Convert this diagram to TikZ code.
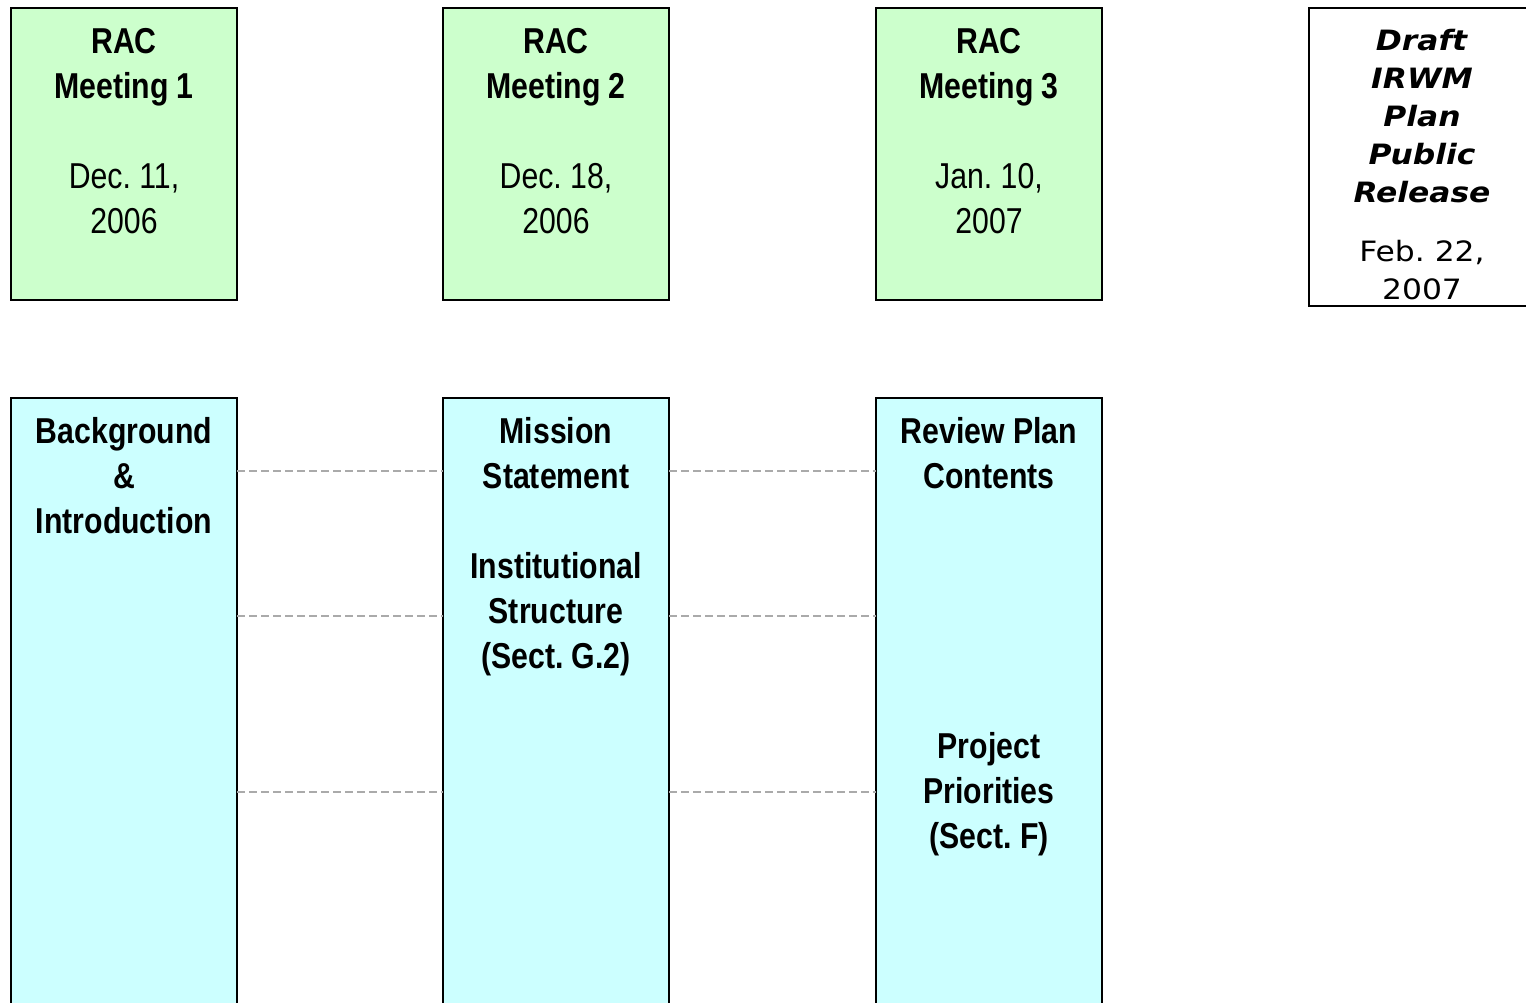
\documentclass[tikz,border=0pt]{standalone}
\usepackage{fontspec}
\newfontfamily\narrowfont[FakeStretch=0.84]{Liberation Sans}
\newfontfamily\verdfont[FakeStretch=1.12]{DejaVu Sans}
\usetikzlibrary{positioning}
\definecolor{meetgreen}{RGB}{204,255,204}
\definecolor{topiccyan}{RGB}{204,255,255}
\definecolor{gapgray}{RGB}{170,170,170}
\tikzset{
  box/.style={draw=black,line width=1pt,rectangle,inner sep=0pt,outer sep=0pt,minimum width=113pt},
  meetbox/.style={box,fill=meetgreen,minimum height=146pt},
  topicbox/.style={box,fill=topiccyan,minimum height=311pt},
  releasebox/.style={box,fill=white,minimum height=149pt},
  boxtext/.style={align=center,inner sep=0pt,font=\narrowfont\fontsize{18pt}{22.5pt}\selectfont},
  releasetext/.style={align=center,inner sep=0pt,font=\verdfont\fontsize{14pt}{19pt}\selectfont},
  gapline/.style={draw=gapgray,line width=0.75pt,dash pattern=on 4pt off 2pt}
}
\begin{document}
\begin{tikzpicture}[x=0.5pt,y=-0.5pt]
		\useasboundingbox (0,0) rectangle (1526,1002);
		
		% meetings
		\node[meetbox] (meet1) at (124,154) {};
		\node[meetbox] (meet2) at (556,154) {};
		\node[meetbox] (meet3) at (989,154) {};
		\node[releasebox] (release) at (1422,157) {};
		
		\node[boxtext, below=7pt of meet1.north] (meet1txt) {\strut\textbf{RAC}\\\textbf{Meeting 1}\\[22.5pt]Dec.~11,\\2006};
		\node[boxtext, below=7pt of meet2.north] (meet2txt) {\strut\textbf{RAC}\\\textbf{Meeting 2}\\[22.5pt]Dec.~18,\\2006};
		\node[boxtext, below=7pt of meet3.north] (meet3txt) {\strut\textbf{RAC}\\\textbf{Meeting 3}\\[22.5pt]Jan.~10,\\2007};
		\node[releasetext, below=7.7pt of release.north] (releasetxt) {\strut\textbf{\textit{Draft}}\\\textbf{\textit{IRWM}}\\\textbf{\textit{Plan}}\\\textbf{\textit{Public}}\\\textbf{\textit{Release}}\\[10.5pt]Feb.~22,\\2007};
		
		% topics
		\node[topicbox] (topic1) at (124,709) {};
		\node[topicbox] (topic2) at (556,709) {};
		\node[topicbox] (topic3) at (989,709) {};
		
		\node[boxtext, below=7pt of topic1.north] (topic1txt) {\strut\textbf{Background}\\\textbf{\&}\\\textbf{Introduction}};
		\node[boxtext, below=7pt of topic2.north] (topic2txt) {\strut\textbf{Mission}\\\textbf{Statement}\\[22.5pt]\textbf{Institutional}\\\textbf{Structure}\\\textbf{(Sect.~G.2)}};
		\node[boxtext, below=7pt of topic3.north] (topic3txt) {\strut\textbf{Review Plan}\\\textbf{Contents}\\[112.5pt]\textbf{Project}\\\textbf{Priorities}\\\textbf{(Sect.~F)}};
		
		% dashed links
		\coordinate (gap1) at (0,471);
		\coordinate (gap2) at (0,616);
		\coordinate (gap3) at (0,792);
		\foreach \g in {gap1,gap2,gap3}{
			\draw[gapline] (topic1.east |- \g) -- (topic2.west |- \g);
			\draw[gapline] (topic2.east |- \g) -- (topic3.west |- \g);
		}
\end{tikzpicture}
\end{document}
